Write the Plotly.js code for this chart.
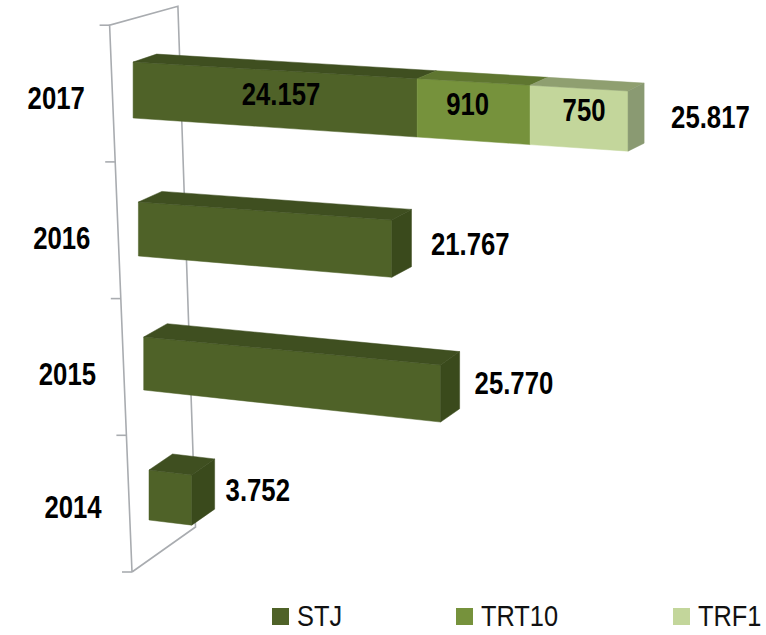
<!DOCTYPE html>
<html>
<head>
<meta charset="utf-8">
<script src="https://cdn.plot.ly/plotly-3.0.1.min.js"></script>
<style>html,body{margin:0;padding:0;background:#fff}#chart{width:766px;height:635px}</style>
</head>
<body>
<div id="chart"></div>
<script>
// Data (index 0 = 2014 ... 3 = 2017)
var years = ['2014', '2015', '2016', '2017'];
var seriesNames = ['STJ', 'TRT10', 'TRF1'];
var stj = [3752, 25770, 21767, 24157];
var trt10 = [0, 0, 0, 910];
var trf1 = [0, 0, 0, 750];
// The reference draws the two small 2017 segments far longer than their labels:
// these are the lengths as pictured, in the same units as stj.
var trt10Drawn = [0, 0, 0, 9600];
var trf1Drawn = [0, 0, 0, 8330];

var FONT = '"Liberation Sans",Arial,sans-serif';
var frontCol = ['#4f6228', '#76923c', '#c3d69b'];
var topCol = ['#3f4f20', '#5f7630', '#8f9f70'];
var sideCol = ['#3a4a1c', '#566b2a', '#8a9a72'];

// Oblique projection of the pseudo-3D chart onto the plot's axes
var rowTop = [470, 337, 202, 62], rowHeight = [50, 53, 54, 56];
var slopeTop = [0.116, 0.094, 0.071, 0.0586], slopeBottom = [0.12, 0.108, 0.084, 0.067];
function geom(i) {
  return {
    x0: 149 - 5.3 * i,
    top0: rowTop[i],
    h: rowHeight[i],
    st: slopeTop[i],
    sb: slopeBottom[i],
    k: (11.4 + 0.12 * i) / 1000,
    dy: -(16 - 2.7 * i)
  };
}
function px(i, v) { var g = geom(i); return g.x0 + v * g.k; }
function topY(i, v) { var g = geom(i); return g.top0 + v * g.k * g.st; }
function botY(i, v) { var g = geom(i); return g.top0 + g.h + v * g.k * g.sb; }
function depthX(i, v) { return 23.5 - 0.015 * v * geom(i).k; }

var traces = [];
function poly(xs, ys, color) {
  traces.push({type: 'scatter', mode: 'lines', x: xs.concat(xs[0]), y: ys.concat(ys[0]),
    fill: 'toself', fillcolor: color, line: {color: color, width: 0.5},
    showlegend: false, hoverinfo: 'skip'});
}
function line(xs, ys) {
  traces.push({type: 'scatter', mode: 'lines', x: xs, y: ys,
    line: {color: '#a9acb0', width: 1.6}, showlegend: false, hoverinfo: 'skip'});
}

// Frame of the category axis: slots 0..4 with tick marks
function axX(c) { return 132 - 5.6 * c; }
function axY(c) { return 572 - 136.7 * c; }
function backX(c) { return 195.5 - 4.4 * c; }
function backY(c) { return 527 - 130.2 * c; }
line([axX(0), axX(4), backX(4), backX(0), axX(0)], [axY(0), axY(4), backY(4), backY(0), axY(0)]);
for (var c = 0; c <= 4; c++) line([axX(c) - 10, axX(c)], [axY(c), axY(c)]);

// Bars
years.forEach(function (yr, i) {
  var segs = [stj[i], trt10Drawn[i], trf1Drawn[i]];
  var start = 0, last = 0, lastS = 0;
  segs.forEach(function (len, s) {
    if (!len) return;
    var a = start, b = start + len, g = geom(i);
    poly([px(i, a), px(i, b), px(i, b), px(i, a)], [topY(i, a), topY(i, b), botY(i, b), botY(i, a)], frontCol[s]);
    poly([px(i, a), px(i, b), px(i, b) + depthX(i, b), px(i, a) + depthX(i, a)],
         [topY(i, a), topY(i, b), topY(i, b) + g.dy, topY(i, a) + g.dy], topCol[s]);
    start = b; last = b; lastS = s;
  });
  var g = geom(i);
  poly([px(i, last), px(i, last) + depthX(i, last), px(i, last) + depthX(i, last), px(i, last)],
       [topY(i, last), topY(i, last) + g.dy, botY(i, last) + g.dy, botY(i, last)], sideCol[lastS]);
});

function fmt(n) { return String(n).replace(/\B(?=(\d{3})+$)/g, '.'); }

// Value labels
var totalsNudgeX = [11, 15, 19.5, 27];
var totalsNudgeY = [-7, -7, -1, -1];
var lx = [], ly = [], lt = [];
years.forEach(function (yr, i) {
  var end = stj[i] + trt10Drawn[i] + trf1Drawn[i];
  var total = stj[i] + trt10[i] + trf1[i];
  lx.push(px(i, end) + depthX(i, end) + totalsNudgeX[i]);
  ly.push((topY(i, end) + botY(i, end)) / 2 + totalsNudgeY[i]);
  lt.push(fmt(total));
});
traces.push({type: 'scatter', mode: 'text', x: lx, y: ly, text: lt, textposition: 'middle right',
  textfont: {family: FONT, size: 31, color: '#000', weight: 700}, showlegend: false, hoverinfo: 'skip', cliponaxis: false});

// Labels inside the 2017 segments
var i17 = 3, mids = [stj[i17] / 2 + 500, stj[i17] + trt10Drawn[i17] / 2, stj[i17] + trt10Drawn[i17] + trf1Drawn[i17] / 2];
var segVals = [stj[i17], trt10[i17], trf1[i17]];
var segNudgeX = [0, -6, 5], segNudgeY = [-2, -4, -5];
traces.push({type: 'scatter', mode: 'text',
  x: mids.map(function (m, s) { return px(i17, m) + segNudgeX[s]; }),
  y: mids.map(function (m, s) { return (topY(i17, m) + botY(i17, m)) / 2 + segNudgeY[s]; }),
  text: segVals.map(fmt), textposition: 'middle center',
  textfont: {family: FONT, size: 31, color: '#000', weight: 700}, showlegend: false, hoverinfo: 'skip'});

// Category labels
var yearLabelY = [510, 377, 241, 101];
traces.push({type: 'scatter', mode: 'text',
  x: years.map(function (y, i) { return 73 - 5.6 * i; }),
  y: yearLabelY,
  text: years, textposition: 'middle center',
  textfont: {family: FONT, size: 31, color: '#000', weight: 700}, showlegend: false, hoverinfo: 'skip'});

// Legend row: swatch and name for each series
var legendSwatchX = [280.5, 464.5, 681.5], legendTextX = [297, 481, 698];
seriesNames.forEach(function (n, s) {
  traces.push({type: 'scatter', mode: 'markers', name: n, x: [legendSwatchX[s]], y: [616.5],
    marker: {symbol: 'square', size: 17, color: frontCol[s]}, showlegend: false, hoverinfo: 'skip'});
  traces.push({type: 'scatter', mode: 'text', name: n, x: [legendTextX[s]], y: [619], text: [n],
    textposition: 'middle right', textfont: {family: FONT, size: 29, color: '#111'},
    showlegend: false, hoverinfo: 'skip', cliponaxis: false});
});

var layout = {
  width: 766, height: 635, margin: {l: 0, r: 0, t: 0, b: 0, autoexpand: false},
  paper_bgcolor: '#fff', plot_bgcolor: '#fff', showlegend: false,
  xaxis: {range: [0, 766], visible: false, fixedrange: true},
  yaxis: {range: [635, 0], visible: false, fixedrange: true}
};

// The reference's type is condensed; no narrow face is installed, so squeeze the text horizontally.
function squeeze(el, f) {
  var cur = el.getAttribute('transform') || '';
  if (cur.indexOf('scale') >= 0) return;
  var x = parseFloat(el.getAttribute('x')) || 0;
  el.setAttribute('transform', cur + ' translate(' + x + ',0) scale(' + f + ',1) translate(' + (-x) + ',0)');
}
var gdEl = document.getElementById('chart');
Plotly.newPlot(gdEl, traces, layout, {displayModeBar: false, staticPlot: true}).then(function () {
  gdEl.querySelectorAll('.textpoint text').forEach(function (t) {
    squeeze(t, seriesNames.indexOf(t.textContent) >= 0 ? 0.875 : 0.83);
  });
});
</script>
</body>
</html>
